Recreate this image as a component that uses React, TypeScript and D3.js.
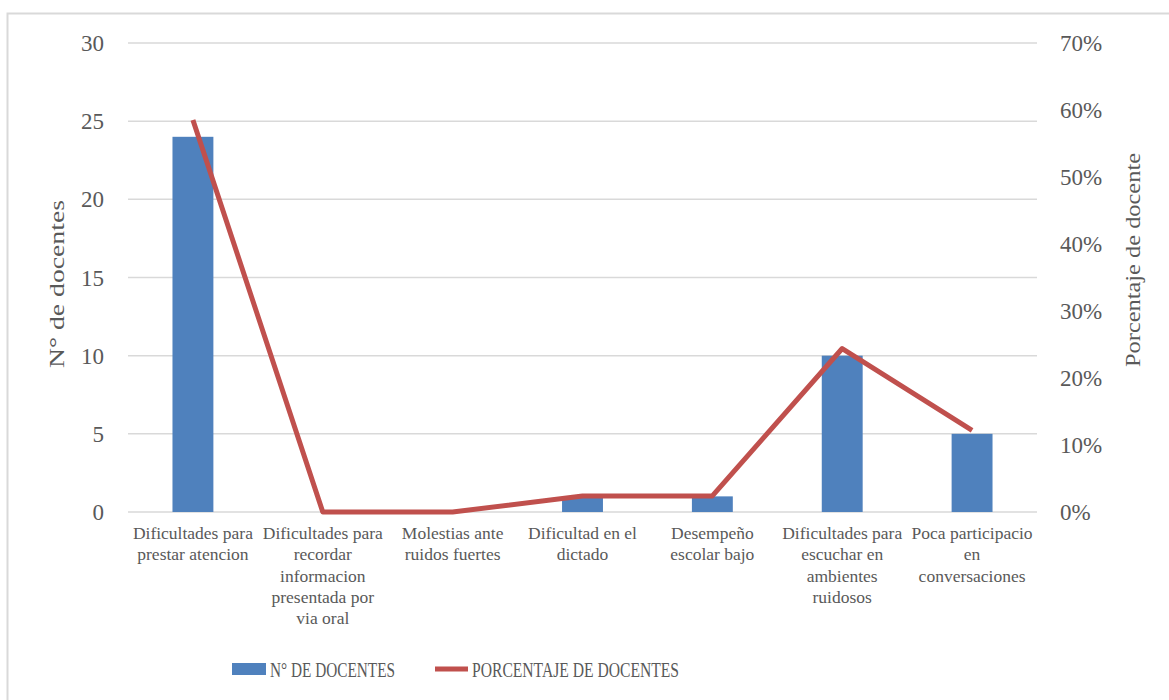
import { useEffect, useRef } from 'react';
import * as d3 from 'd3';

const categories = [
  'Dificultades para|prestar atencion',
  'Dificultades para|recordar|informacion|presentada por|via oral',
  'Molestias ante|ruidos fuertes',
  'Dificultad en el|dictado',
  'Desempeño|escolar bajo',
  'Dificultades para|escuchar en|ambientes|ruidosos',
  'Poca participacio|en|conversaciones',
];
const docentes = [24, 0, 0, 1, 1, 10, 5];
const porcentaje = [0.585, 0, 0, 0.024, 0.024, 0.244, 0.122];
const leftTicks = [0, 5, 10, 15, 20, 25, 30];
const rightTicks = [0, 0.1, 0.2, 0.3, 0.4, 0.5, 0.6, 0.7];

const W = 1169;
const H = 700;
const FONT = "'Liberation Serif', Times, serif";
const TEXT = '#595959';
const BLUE = '#4F81BD';
const RED = '#C0504D';

export default function App() {
  const ref = useRef<SVGSVGElement>(null);

  useEffect(() => {
    if (!ref.current) return;
    const svg = d3.select(ref.current);
    svg.selectAll('*').remove();

    const left = 128;
    const right = 1037;
    const top = 43;
    const bottom = 512;

    // chart frame (runs off the right and bottom edges)
    svg
      .append('rect')
      .attr('x', 7.5)
      .attr('y', 13.5)
      .attr('width', W + 20)
      .attr('height', H + 20)
      .attr('fill', '#fff')
      .attr('stroke', '#d9d9d9')
      .attr('stroke-width', 2);

    const x = d3.scaleBand().domain(categories).range([left, right]);
    const yL = d3.scaleLinear().domain([0, 30]).range([bottom, top]);
    const yR = d3.scaleLinear().domain([0, 0.7]).range([bottom, top]);

    // grid
    svg
      .append('g')
      .selectAll('line')
      .data(leftTicks)
      .enter()
      .append('line')
      .attr('x1', left)
      .attr('x2', right)
      .attr('y1', (d) => yL(d))
      .attr('y2', (d) => yL(d))
      .attr('stroke', '#d9d9d9')
      .attr('stroke-width', 1.5);

    // left ticks
    svg
      .append('g')
      .selectAll('text')
      .data(leftTicks)
      .enter()
      .append('text')
      .attr('x', 104)
      .attr('y', (d) => yL(d))
      .attr('dy', '0.35em')
      .attr('text-anchor', 'end')
      .attr('font-size', 23)
      .attr('fill', TEXT)
      .text((d) => d);

    // right ticks
    svg
      .append('g')
      .selectAll('text')
      .data(rightTicks)
      .enter()
      .append('text')
      .attr('x', 1060)
      .attr('y', (d) => yR(d))
      .attr('dy', '0.35em')
      .attr('font-size', 23)
      .attr('fill', TEXT)
      .text((d) => d3.format('.0%')(d));

    // axis titles
    svg
      .append('text')
      .attr('transform', `translate(64,284) rotate(-90)`)
      .attr('text-anchor', 'middle')
      .attr('font-size', 22)
      .attr('textLength', 168)
      .attr('lengthAdjust', 'spacingAndGlyphs')
      .attr('fill', TEXT)
      .text('N° de docentes');

    svg
      .append('text')
      .attr('transform', `translate(1140,260) rotate(-90)`)
      .attr('text-anchor', 'middle')
      .attr('font-size', 22)
      .attr('textLength', 214)
      .attr('lengthAdjust', 'spacingAndGlyphs')
      .attr('fill', TEXT)
      .text('Porcentaje de docente');

    // bars
    const barW = x.bandwidth() * 0.315;
    svg
      .append('g')
      .selectAll('rect')
      .data(docentes)
      .enter()
      .append('rect')
      .attr('x', (d, i) => (x(categories[i]) || 0) + x.bandwidth() / 2 - barW / 2)
      .attr('y', (d) => yL(d))
      .attr('width', barW)
      .attr('height', (d) => bottom - yL(d))
      .attr('fill', BLUE);

    // line
    const line = d3
      .line<number>()
      .x((d, i) => (x(categories[i]) || 0) + x.bandwidth() / 2)
      .y((d) => yR(d));
    svg
      .append('path')
      .datum(porcentaje)
      .attr('d', line)
      .attr('fill', 'none')
      .attr('stroke', RED)
      .attr('stroke-width', 5)
      .attr('stroke-linejoin', 'round');

    // category labels
    const cat = svg
      .append('g')
      .selectAll('text')
      .data(categories)
      .enter()
      .append('text')
      .attr('x', (d) => (x(d) || 0) + x.bandwidth() / 2)
      .attr('y', 539)
      .attr('text-anchor', 'middle')
      .attr('font-size', 17.5)
      .attr('fill', TEXT);
    cat
      .selectAll('tspan')
      .data((d) => d.split('|'))
      .enter()
      .append('tspan')
      .attr('x', function () {
        return (this.parentNode as SVGTextElement).getAttribute('x');
      })
      .attr('dy', (d, i) => (i === 0 ? 0 : 21.3))
      .text((d) => d);

    // legend
    const lg = svg.append('g');
    lg.append('rect').attr('x', 232).attr('y', 663).attr('width', 34).attr('height', 12).attr('fill', BLUE);
    lg.append('text')
      .attr('x', 270)
      .attr('y', 677)
      .attr('font-size', 21)
      .attr('textLength', 125)
      .attr('lengthAdjust', 'spacingAndGlyphs')
      .attr('fill', TEXT)
      .text('N° DE DOCENTES');
    lg.append('line')
      .attr('x1', 435)
      .attr('x2', 468)
      .attr('y1', 669)
      .attr('y2', 669)
      .attr('stroke', RED)
      .attr('stroke-width', 5);
    lg.append('text')
      .attr('x', 472)
      .attr('y', 677)
      .attr('font-size', 21)
      .attr('textLength', 207)
      .attr('lengthAdjust', 'spacingAndGlyphs')
      .attr('fill', TEXT)
      .text('PORCENTAJE DE DOCENTES');
  }, []);

  return (
    <svg
      ref={ref}
      width={W}
      height={H}
      fontFamily={FONT}
      style={{ position: 'absolute', left: 0, top: 0, background: '#fff' }}
    />
  );
}
